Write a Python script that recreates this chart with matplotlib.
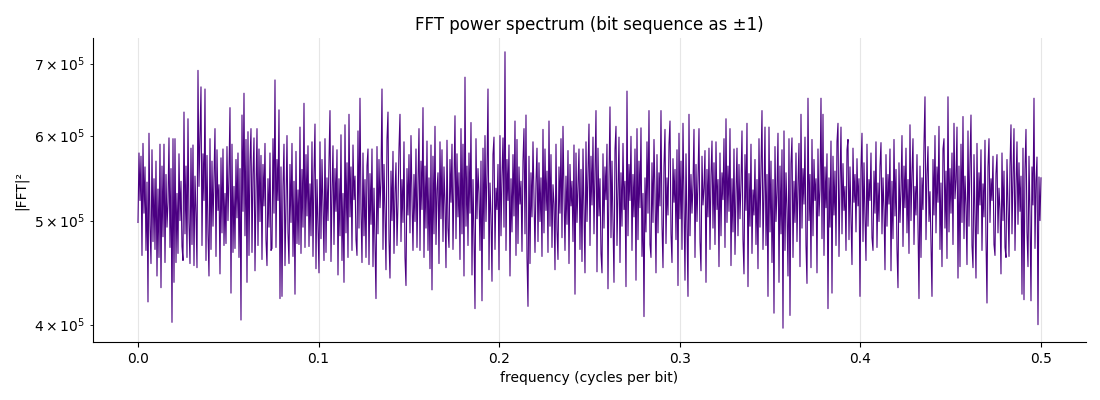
import numpy as np
import matplotlib
matplotlib.use("Agg")
import matplotlib.pyplot as plt

# power values, in thousands (|FFT|^2 / 1000)
power_k = [
    498, 578, 522, 574, 464, 590, 508, 561, 469, 543, 420, 603, 495, 456, 582, 478, 547, 470, 568, 444, 535, 462, 589, 433, 562, 483, 589, 457, 552, 493,
    520, 597, 472, 559, 402, 596, 438, 596, 457, 530, 466, 577, 500, 544, 473, 459, 631, 486, 562, 462, 622, 498, 456, 584, 475, 588, 454, 550, 508, 452,
    690, 538, 596, 666, 474, 577, 522, 663, 459, 575, 486, 444, 596, 470, 568, 494, 547, 609, 463, 582, 511, 540, 446, 572, 487, 583, 474, 530, 476, 586,
    500, 554, 637, 428, 589, 467, 538, 471, 570, 503, 578, 462, 559, 404, 627, 510, 657, 484, 595, 438, 605, 464, 568, 609, 467, 552, 597, 449, 532, 609,
    474, 583, 499, 575, 460, 564, 516, 590, 480, 454, 547, 493, 578, 469, 471, 596, 508, 676, 472, 570, 522, 634, 423, 561, 425, 538, 589, 454, 517, 600,
    487, 456, 564, 498, 590, 463, 544, 427, 580, 476, 534, 475, 611, 466, 558, 493, 643, 472, 576, 505, 587, 473, 541, 484, 592, 463, 552, 615, 451, 546,
    494, 447, 592, 481, 570, 517, 459, 596, 467, 548, 500, 568, 633, 458, 532, 587, 475, 559, 510, 582, 445, 547, 484, 601, 459, 530, 438, 614, 487, 566,
    462, 628, 504, 561, 469, 588, 523, 550, 480, 464, 606, 492, 650, 512, 457, 578, 484, 546, 462, 562, 583, 455, 553, 496, 583, 453, 536, 475, 423, 586,
    486, 570, 514, 547, 663, 470, 564, 508, 450, 595, 631, 480, 442, 556, 500, 580, 466, 530, 566, 474, 518, 584, 628, 478, 546, 498, 592, 462, 435, 559,
    506, 576, 487, 600, 524, 469, 552, 499, 583, 472, 541, 609, 469, 568, 512, 637, 462, 562, 492, 593, 469, 548, 451, 588, 431, 574, 486, 612, 475, 534,
    554, 456, 592, 502, 582, 478, 561, 517, 452, 594, 492, 472, 570, 520, 589, 470, 542, 626, 481, 577, 504, 554, 460, 609, 486, 589, 444, 680, 494, 562,
    474, 578, 508, 617, 445, 546, 484, 414, 596, 502, 559, 530, 469, 568, 421, 584, 481, 600, 499, 552, 663, 450, 542, 506, 439, 576, 598, 470, 536, 512,
    564, 450, 600, 484, 550, 597, 493, 718, 469, 570, 522, 588, 444, 547, 488, 576, 505, 619, 464, 595, 476, 561, 518, 544, 468, 568, 609, 486, 627, 462,
    416, 574, 456, 554, 504, 592, 524, 467, 542, 584, 478, 566, 499, 548, 463, 608, 487, 583, 511, 556, 467, 619, 494, 576, 472, 540, 518, 450, 589, 490,
    460, 561, 508, 596, 482, 612, 529, 469, 550, 496, 581, 456, 564, 516, 544, 478, 588, 427, 578, 498, 540, 583, 470, 558, 458, 583, 510, 447, 592, 499,
    552, 615, 474, 574, 517, 598, 486, 558, 633, 448, 584, 505, 547, 466, 447, 577, 492, 561, 523, 589, 432, 548, 638, 482, 568, 502, 438, 582, 612, 474,
    535, 598, 457, 554, 494, 590, 512, 544, 434, 660, 484, 564, 522, 599, 469, 552, 504, 583, 440, 609, 480, 568, 514, 610, 463, 530, 407, 548, 488, 592,
    508, 633, 475, 462, 566, 498, 595, 529, 447, 576, 487, 554, 516, 633, 496, 452, 562, 608, 476, 548, 506, 589, 619, 486, 457, 571, 520, 558, 480, 582,
    435, 603, 502, 568, 470, 616, 518, 440, 577, 494, 425, 628, 484, 552, 508, 540, 608, 462, 564, 499, 546, 609, 478, 449, 574, 517, 536, 581, 438, 558,
    504, 584, 470, 550, 593, 492, 566, 475, 592, 512, 546, 453, 578, 484, 554, 523, 596, 472, 622, 498, 562, 510, 609, 454, 547, 488, 583, 465, 530, 584,
    484, 564, 502, 541, 606, 480, 446, 576, 511, 616, 434, 553, 494, 589, 466, 534, 506, 570, 475, 546, 451, 596, 493, 558, 633, 470, 532, 611, 474, 552,
    425, 611, 488, 568, 457, 546, 410, 586, 499, 532, 603, 438, 562, 486, 582, 397, 606, 469, 554, 512, 444, 596, 408, 565, 597, 462, 544, 498, 578, 478,
    540, 590, 453, 628, 492, 559, 518, 598, 474, 437, 650, 500, 552, 452, 595, 484, 570, 522, 547, 447, 583, 505, 534, 650, 481, 628, 464, 561, 514, 577,
    414, 548, 493, 593, 428, 574, 506, 556, 474, 592, 616, 463, 542, 611, 486, 565, 511, 538, 469, 582, 595, 480, 561, 502, 455, 584, 520, 552, 488, 571,
    516, 547, 425, 559, 603, 478, 566, 504, 459, 589, 494, 546, 522, 578, 482, 469, 556, 508, 592, 472, 542, 499, 562, 591, 486, 548, 512, 450, 576, 494,
    552, 518, 583, 449, 544, 481, 595, 505, 558, 470, 433, 566, 498, 534, 600, 473, 562, 514, 584, 487, 546, 466, 614, 500, 554, 596, 475, 538, 506, 576,
    493, 423, 562, 462, 548, 512, 589, 652, 480, 552, 586, 499, 532, 474, 425, 570, 506, 600, 487, 561, 520, 612, 470, 542, 453, 583, 596, 492, 556, 461,
    652, 488, 559, 508, 578, 475, 616, 524, 546, 611, 442, 562, 453, 589, 498, 625, 481, 550, 516, 455, 606, 494, 566, 627, 474, 452, 576, 506, 442, 590,
    486, 554, 517, 582, 469, 541, 504, 594, 480, 419, 561, 596, 498, 547, 522, 574, 475, 464, 553, 576, 487, 536, 512, 446, 578, 500, 556, 472, 462, 570,
    518, 463, 562, 614, 486, 548, 609, 469, 538, 592, 496, 566, 510, 550, 427, 584, 422, 558, 608, 488, 453, 574, 505, 421, 561, 517, 650, 471, 544, 573,
    400, 549, 500, 548,
]

power = np.array(power_k) * 1000.0
freq = np.linspace(0, 0.5, len(power))

fig = plt.figure(figsize=(11, 4), dpi=100)
ax = fig.add_axes([0.0844, 0.145, 0.903, 0.76])

ax.plot(freq, power, color="#4B0082", lw=0.8)
ax.set_yscale("log")

ax.set_title("FFT power spectrum (bit sequence as ±1)", fontsize=12)
ax.set_xlabel("frequency (cycles per bit)")
ax.set_ylabel("|FFT|²")

ax.grid(True, axis="x", color="#e6e6e6", lw=0.8)
ax.set_axisbelow(True)
ax.spines["top"].set_visible(False)
ax.spines["right"].set_visible(False)

fig.savefig("out.png", dpi=100)
